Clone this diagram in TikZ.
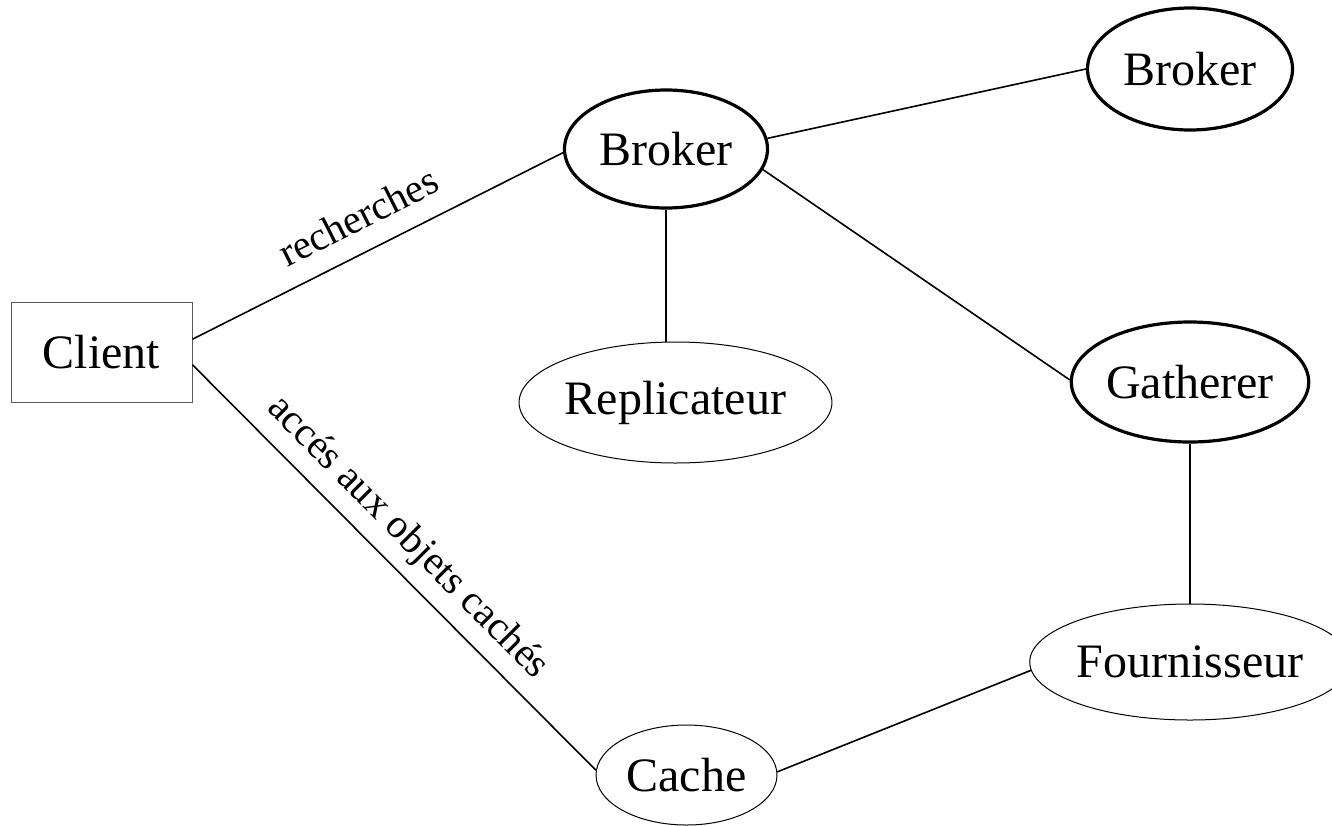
\documentclass[tikz,border=0pt]{standalone}
\usepackage{fontspec}
\setmainfont{Liberation Serif}
\usetikzlibrary{shapes.geometric}
\begin{document}
\begin{tikzpicture}[x=1pt,y=-1pt,
  bignode/.style={font=\fontsize{48}{57}\selectfont, inner sep=0pt},
  thickell/.style={bignode, ellipse, draw, line width=3.2pt},
  thinell/.style={bignode, ellipse, draw, line width=1pt},
  boxnode/.style={bignode, rectangle, draw=black!65, line width=1pt},
  conn/.style={line width=1.6pt},
  lbl/.style={font=\fontsize{40.5}{48}\selectfont, inner sep=0pt, sloped}]
\useasboundingbox (0,0) rectangle (1332,825);
\clip (0,0) rectangle (1332,825);
\node[boxnode, minimum width=181pt, minimum height=100pt] (client) at (101.5,352) {Client};
\node[thickell, minimum width=203pt, minimum height=118pt] (broker1) at (666,149) {Broker};
\node[thickell, minimum width=205pt, minimum height=122pt] (broker2) at (1190,69) {Broker};
\node[thinell, minimum width=303pt, minimum height=121pt] (replicateur) at (675.5,402.5) {Replicateur};
\node[thickell, minimum width=224pt, minimum height=120pt] (gatherer) at (1190,382) {Gatherer};
\node[thinell, minimum width=304pt, minimum height=116pt] (fournisseur) at (1190,662) {Fournisseur};
\node[thinell, minimum width=181pt, minimum height=100pt] (cache) at (686.5,775) {Cache};
\draw[conn] (client.8.7) -- node[lbl, above=20pt, pos=0.49] {recherches} (broker1.182);
\draw[conn] (client.-8) -- node[lbl, above=11pt, pos=0.48] {accés aux objets cachés} (cache.177);
\draw[conn] (broker1.6) -- (broker2.180.6);
\draw[conn] (broker1.south) -- (broker1.south |- replicateur.north);
\draw[conn] (broker1.-12) -- (gatherer.179);
\draw[conn] (gatherer.south) -- (fournisseur.north);
\draw[conn] (cache.2) -- (fournisseur.183);
\end{tikzpicture}
\end{document}
